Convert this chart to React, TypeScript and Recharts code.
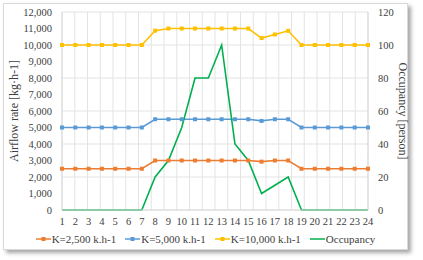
import React from "react";
import {
  ComposedChart,
  Line,
  XAxis,
  YAxis,
  CartesianGrid,
  Legend,
} from "recharts";

const hours = [
  "1", "2", "3", "4", "5", "6", "7", "8", "9", "10", "11", "12",
  "13", "14", "15", "16", "17", "18", "19", "20", "21", "22", "23", "24",
];
const k2500 = [
  2500, 2500, 2500, 2500, 2500, 2500, 2500, 3000, 3000, 3000, 3000, 3000,
  3000, 3000, 3000, 2930, 3000, 3000, 2500, 2500, 2500, 2500, 2500, 2500,
];
const k5000 = [
  5000, 5000, 5000, 5000, 5000, 5000, 5000, 5500, 5500, 5500, 5500, 5500,
  5500, 5500, 5500, 5400, 5500, 5500, 5000, 5000, 5000, 5000, 5000, 5000,
];
const k10000 = [
  10000, 10000, 10000, 10000, 10000, 10000, 10000, 10870, 11000, 11000, 11000, 11000,
  11000, 11000, 11000, 10420, 10640, 10860, 10000, 10000, 10000, 10000, 10000, 10000,
];
const occupancy = [
  0, 0, 0, 0, 0, 0, 0, 20, 30, 50, 80, 80,
  100, 40, 30, 10, 15, 20, 0, 0, 0, 0, 0, 0,
];
const leftTicks = [0, 1000, 2000, 3000, 4000, 5000, 6000, 7000, 8000, 9000, 10000, 11000, 12000];
const rightTicks = [0, 20, 40, 60, 80, 100, 120];

const seriesInfo = [
  { key: "k2500", name: "K=2,500 k.h-1", color: "#ED7D31", marker: true, axis: "left" },
  { key: "k5000", name: "K=5,000 k.h-1", color: "#5B9BD5", marker: true, axis: "left" },
  { key: "k10000", name: "K=10,000 k.h-1", color: "#FFC000", marker: true, axis: "left" },
  { key: "occ", name: "Occupancy", color: "#00B050", marker: false, axis: "right" },
];

const data = hours.map((h, i) => ({
  hour: h,
  k2500: k2500[i],
  k5000: k5000[i],
  k10000: k10000[i],
  occ: occupancy[i],
}));

const FONT = "'Liberation Serif', 'Times New Roman', serif";

const SquareDot = (color: string) => (props: any) => {
  const { cx, cy, index } = props;
  if (cx == null || cy == null) return <g key={index} />;
  return <rect key={index} x={cx - 2} y={cy - 2} width={4} height={4} fill={color} />;
};

const LegendContent = () => (
  <div
    style={{
      display: "flex",
      justifyContent: "center",
      gap: 9,
      fontFamily: FONT,
      fontSize: 11,
      color: "#404040",
      paddingTop: 3,
      paddingRight: 12,
    }}
  >
    {seriesInfo.map((s) => (
      <div key={s.key} style={{ display: "flex", alignItems: "center" }}>
        <svg width={15} height={8} style={{ marginRight: 1 }}>
          <line x1={0} y1={4} x2={15} y2={4} stroke={s.color} strokeWidth={1.5} />
          {s.marker && <rect x={5.5} y={2} width={4} height={4} fill={s.color} />}
        </svg>
        <span>{s.name}</span>
      </div>
    ))}
  </div>
);

export default function App() {
  return (
    <div style={{ position: "absolute", left: 0, top: 0, width: 423, height: 260, background: "#fff" }}>
      <div
        style={{
          position: "absolute",
          left: 3,
          top: 3,
          width: 403,
          height: 245,
          border: "1px solid #d9d9d9",
          boxShadow: "3px 3px 4px rgba(0,0,0,0.35)",
          background: "#fff",
        }}
      />
      <div style={{ position: "absolute", left: 0, top: 0 }}>
        <ComposedChart
          width={423}
          height={260}
          data={data}
          margin={{ top: 12, right: 0, bottom: 0, left: 0 }}
        >
          <CartesianGrid
            yAxisId="left"
            stroke="#e3e3e3"
            verticalCoordinatesGenerator={({ offset }: any) =>
              Array.from({ length: hours.length + 1 }, (_, i) => offset.left + (i * offset.width) / hours.length)
            }
          />
          <XAxis
            dataKey="hour"
            height={20}
            tickLine={false}
            axisLine={{ stroke: "#d9d9d9" }}
            interval={0}
            tick={{ fontFamily: FONT, fontSize: 10.5, fill: "#404040" }}
          />
          <YAxis
            yAxisId="left"
            width={62}
            domain={[0, 12000]}
            ticks={leftTicks}
            tickLine={false}
            axisLine={{ stroke: "#d9d9d9" }}
            tickMargin={4}
            tickFormatter={(v: number) => v.toLocaleString("en-US")}
            tick={{ fontFamily: FONT, fontSize: 10.5, fill: "#404040" }}
            label={{
              value: "Airflow rate [kg·h-1]",
              angle: -90,
              position: "insideLeft",
              offset: 14,
              style: { fontFamily: FONT, fontSize: 12, fill: "#404040", textAnchor: "middle" },
            }}
          />
          <YAxis
            yAxisId="right"
            orientation="right"
            width={55}
            domain={[0, 120]}
            ticks={rightTicks}
            tickLine={false}
            axisLine={{ stroke: "#d9d9d9" }}
            tickMargin={4}
            tick={{ fontFamily: FONT, fontSize: 10.5, fill: "#404040" }}
            label={{
              value: "Occupancy [person]",
              angle: 90,
              position: "insideRight",
              offset: 20,
              style: { fontFamily: FONT, fontSize: 12, fill: "#404040", textAnchor: "middle" },
            }}
          />
          <Legend verticalAlign="bottom" height={30} content={<LegendContent />} />
          {seriesInfo.map((s) => (
            <Line
              key={s.key}
              yAxisId={s.axis}
              dataKey={s.key}
              name={s.name}
              type="linear"
              stroke={s.color}
              strokeWidth={1.6}
              dot={s.marker ? SquareDot(s.color) : false}
              activeDot={false}
              isAnimationActive={false}
            />
          ))}
        </ComposedChart>
      </div>
    </div>
  );
}
